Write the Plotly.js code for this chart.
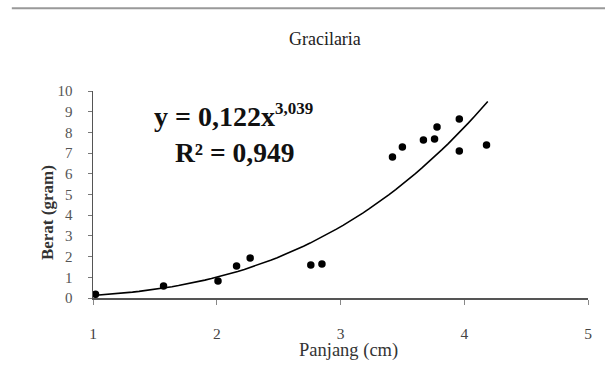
<!DOCTYPE html>
<html>
<head>
<meta charset="utf-8">
<script src="https://cdn.plot.ly/plotly-3.0.1.min.js"></script>
<style>html,body{margin:0;padding:0;background:#fff;}#chart{width:605px;height:387px;}</style>
</head>
<body>
<div id="chart"></div>
<script>
// Observed data (Panjang in cm, Berat in gram)
var panjang = [1.02, 1.57, 2.01, 2.16, 2.27, 2.76, 2.85, 3.42, 3.50, 3.67, 3.76, 3.78, 3.96, 3.96, 4.18];
var berat   = [0.18, 0.58, 0.82, 1.55, 1.93, 1.59, 1.64, 6.81, 7.29, 7.63, 7.68, 8.26, 8.65, 7.10, 7.39];

// Power trendline shown on the chart: y = 0,122 x^3,039
var trendA = 0.122;
var trendB = 3.039;
var trendStart = 1.0;
var trendEnd = 4.19;

var xTicks = [1, 2, 3, 4, 5];
var yTicks = [0, 1, 2, 3, 4, 5, 6, 7, 8, 9, 10];

var tx = [], ty = [];
var n = 60;
for (var i = 0; i <= n; i++) {
  var x = trendStart + (trendEnd - trendStart) * i / n;
  tx.push(x);
  ty.push(trendA * Math.pow(x, trendB));
}

var serif = 'Liberation Serif';

var traces = [
  {x: tx, y: ty, mode: 'lines', type: 'scatter', line: {color: '#000', width: 1.6}, hoverinfo: 'skip', showlegend: false},
  {x: panjang, y: berat, mode: 'markers', type: 'scatter', marker: {color: '#000', size: 7.5}, showlegend: false}
];

var layout = {
  width: 605, height: 387,
  paper_bgcolor: '#fff', plot_bgcolor: '#fff',
  margin: {l: 93, r: 17, t: 91, b: 89},
  title: {text: 'Gracilaria', font: {family: serif, size: 18, color: '#222'}, x: 0.537, xanchor: 'center', y: 0.899, yanchor: 'middle'},
  xaxis: {
    range: [1, 5], tickvals: xTicks, ticktext: xTicks.map(String),
    showgrid: false, zeroline: false, showline: true, linecolor: '#555', linewidth: 2,
    ticks: 'outside', ticklen: 5, tickcolor: '#888', tickwidth: 1,
    ticklabelstandoff: 15,
    tickfont: {family: serif, size: 15.5, color: '#444'}
  },
  yaxis: {
    range: [0, 10], tickvals: yTicks, ticktext: yTicks.map(String),
    showgrid: false, zeroline: false, showline: true, linecolor: '#555', linewidth: 1.5,
    ticks: 'outside', ticklen: 4, tickcolor: '#777', tickwidth: 1,
    ticklabelstandoff: 12,
    tickfont: {family: serif, size: 15, color: '#555'}
  },
  annotations: [
    {xref: 'paper', yref: 'paper', x: -0.093, y: 0.415, xanchor: 'center', yanchor: 'middle',
     text: '<b>Berat (gram)</b>', textangle: -90,
     showarrow: false, font: {family: serif, size: 17, color: '#333'}},
    {xref: 'paper', yref: 'paper', x: 0.517, y: -0.256, xanchor: 'center', yanchor: 'middle',
     text: 'Panjang (cm)',
     showarrow: false, font: {family: serif, size: 18.5, color: '#333'}},
    {xref: 'paper', yref: 'paper', x: 0.119, y: 0.884, xanchor: 'left', yanchor: 'middle',
     text: '<b>y = 0,122x<sup><span style="font-size:17px">3,039</span></sup></b>', showarrow: false, font: {family: serif, size: 28, color: '#111'}},
    {xref: 'paper', yref: 'paper', x: 0.162, y: 0.705, xanchor: 'left', yanchor: 'middle',
     text: '<b>R² = 0,949</b>', showarrow: false, font: {family: serif, size: 27.5, color: '#111'}}
  ],
  shapes: [
    {type: 'line', xref: 'paper', yref: 'paper', x0: -0.164, x1: 1.04, y0: 1.4, y1: 1.4,
     line: {color: '#999', width: 2}}
  ]
};

Plotly.newPlot('chart', traces, layout, {displayModeBar: false, staticPlot: true});
</script>
</body>
</html>
